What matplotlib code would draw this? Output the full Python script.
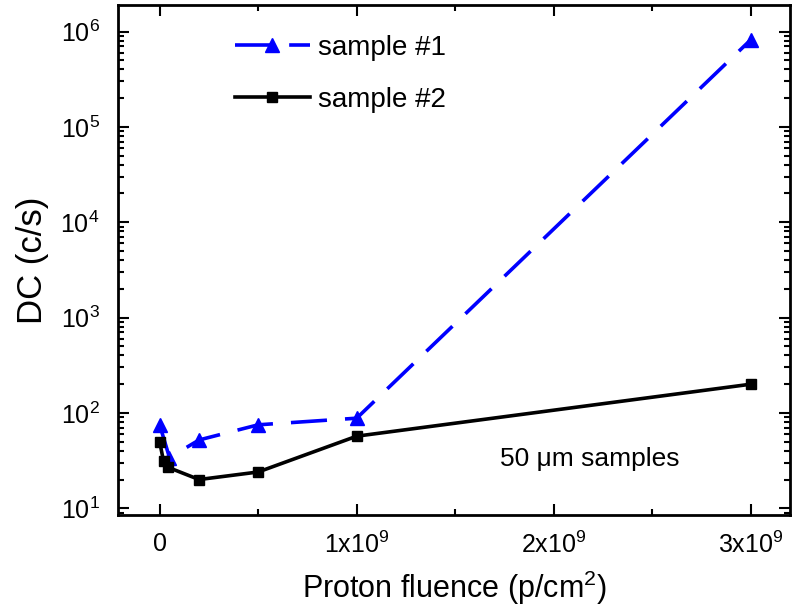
import numpy as np
import matplotlib.pyplot as plt
from matplotlib.ticker import FixedLocator, LogLocator, NullFormatter

# Dark count vs proton fluence, two 50 um samples
fluence_1 = [0, 0.05e9, 0.2e9, 0.5e9, 1e9, 3e9]
dc_1 = [75, 34, 52, 75, 88, 820000]

fluence_2 = [0, 0.02e9, 0.04e9, 0.2e9, 0.5e9, 1e9, 3e9]
dc_2 = [50, 31, 27, 20, 24, 57, 200]

x_ticks = [0, 1e9, 2e9, 3e9]
x_labels = ["0", "1x10$^9$", "2x10$^9$", "3x10$^9$"]

plt.rcParams['font.family'] = ['Liberation Sans', 'DejaVu Sans']
plt.rcParams['mathtext.fontset'] = 'custom'
plt.rcParams['mathtext.rm'] = 'Liberation Sans'
plt.rcParams['mathtext.it'] = 'Liberation Sans'


def make_plot():
    fig = plt.figure(figsize=(7.95, 6.16), dpi=100)
    ax = fig.add_axes([0.148, 0.164, 0.846, 0.828])

    ax.plot(fluence_1, dc_1, color="#0000ff", linestyle=(0, (10, 5)),
            linewidth=2.6, marker="^", markersize=10, label="sample #1")
    ax.plot(fluence_2, dc_2, color="black", linestyle="-",
            linewidth=2.6, marker="s", markersize=7, label="sample #2")

    ax.set_yscale("log")
    ax.set_xlim(-0.213e9, 3.2e9)
    ax.set_ylim(8.5, 1.9e6)

    ax.xaxis.set_major_locator(FixedLocator(x_ticks))
    ax.set_xticklabels(x_labels)
    ax.xaxis.set_minor_locator(FixedLocator([0.5e9, 1.5e9, 2.5e9]))
    ax.yaxis.set_major_locator(LogLocator(base=10, numticks=10))
    ax.yaxis.set_minor_locator(LogLocator(base=10, subs=np.arange(2, 10), numticks=20))
    ax.yaxis.set_minor_formatter(NullFormatter())

    ax.tick_params(which="both", direction="in", top=True, right=True,
                   labelsize=18, width=1.5)
    ax.tick_params(which="major", length=8)
    ax.tick_params(axis="x", which="major", pad=12)
    ax.tick_params(axis="y", which="major", pad=13)
    ax.tick_params(which="minor", length=4)
    for sp in ax.spines.values():
        sp.set_linewidth(2)

    ax.set_xlabel("Proton fluence (p/cm$^2$)", fontsize=22, labelpad=8)
    ax.set_ylabel("DC (c/s)", fontsize=25, labelpad=8)

    ax.text(0.568, 0.11, "50 \u03bcm samples", transform=ax.transAxes,
            fontsize=19, ha="left", va="center")

    ax.legend(loc="upper left", bbox_to_anchor=(0.174, 0.942), frameon=False,
              fontsize=20, handlelength=2.7, labelspacing=0.95,
              handletextpad=0.3, borderpad=0, borderaxespad=0)

    fig.savefig("out.png", dpi=100)


def main():
    make_plot()


if __name__ == "__main__":
    main()
